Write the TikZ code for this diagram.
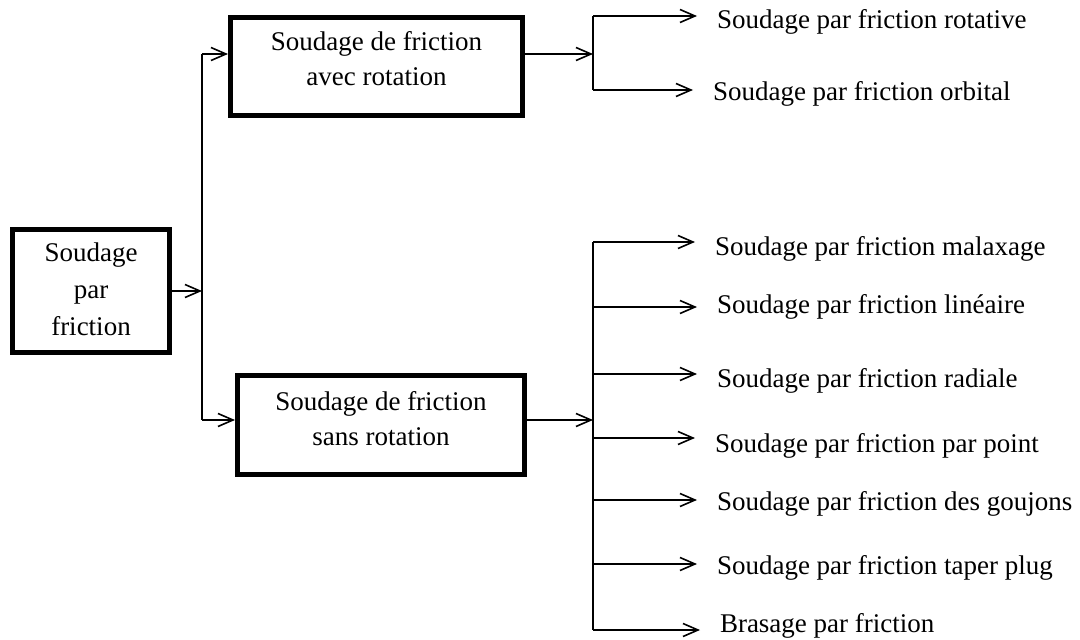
\documentclass[tikz,border=0pt]{standalone}
\usepackage{fontspec}
\setmainfont{Liberation Serif}
\usetikzlibrary{arrows.meta}
\begin{document}
\begin{tikzpicture}[x=1pt,y=-1pt,
  thinline/.style={line width=1.6pt},
  conn/.style={thinline,-{Straight Barb[length=15pt,width=13pt,line width=1.6pt]}},
  boxnode/.style={draw,line width=5pt,rectangle,inner sep=0pt},
  boxtext/.style={align=center,inner sep=0pt,font=\fontsize{27}{35}\selectfont},
  leaf/.style={anchor=base west,inner ysep=0pt,inner xsep=20pt,outer sep=0pt,font=\fontsize{27}{32}\selectfont}]
\useasboundingbox (0,0) rectangle (1080,640);
% boxes
\node[boxnode,minimum width=157pt,minimum height=123pt] (src) at (91,291) {};
\node[boxtext,font=\fontsize{27}{37}\selectfont] (srctext) at (91,289) {Soudage\\par\\friction};
\node[boxnode,minimum width=292pt,minimum height=98pt] (topbox) at (376.5,66.5) {};
\node[boxtext] (toptext) at (376.5,58.3) {Soudage de friction\\avec rotation};
\node[boxnode,minimum width=287pt,minimum height=99pt] (botbox) at (381,425) {};
\node[boxtext] (bottext) at (381,418.3) {Soudage de friction\\sans rotation};
% left spine
\coordinate (ls1) at (202,54);
\coordinate (ls2) at (202,420);
\draw[thinline] (ls1) -- (ls2);
\draw[conn] (src.east) -- (src.east -| ls1);
\draw[conn] (ls1) -- (ls1 -| topbox.west);
\draw[conn] (ls2) -- (ls2 -| botbox.west);
% top right
\coordinate (ts) at (593,54);
\coordinate (t1) at (593,16);
\coordinate (t2) at (593,90);
\draw[thinline] (t1) -- (t2);
\draw[conn] (topbox.east |- ts) -- (ts);
\node[leaf] (r1) at (697,28) {Soudage par friction rotative};
\node[leaf] (r2) at (693,100) {Soudage par friction orbital};
\draw[conn] (t1) -- (t1 -| r1.west);
\draw[conn] (t2) -- (t2 -| r2.west);
% bottom right
\coordinate (bs) at (593,420);
\coordinate (b1) at (593,242);
\coordinate (b2) at (593,307);
\coordinate (b3) at (593,374);
\coordinate (b4) at (593,438);
\coordinate (b5) at (593,500);
\coordinate (b6) at (593,564);
\coordinate (b7) at (593,630);
\draw[thinline] (b1) -- (b7);
\draw[conn] (botbox.east |- bs) -- (bs);
\node[leaf] (m1) at (695,255) {Soudage par friction malaxage};
\node[leaf] (m2) at (697,313) {Soudage par friction linéaire};
\node[leaf] (m3) at (697,387) {Soudage par friction radiale};
\node[leaf] (m4) at (695,452) {Soudage par friction par point};
\node[leaf] (m5) at (697,510) {Soudage par friction des goujons};
\node[leaf] (m6) at (697,574) {Soudage par friction taper plug};
\node[leaf] (m7) at (700,632) {Brasage par friction};
\draw[conn] (b1) -- (b1 -| m1.west);
\draw[conn] (b2) -- (b2 -| m2.west);
\draw[conn] (b3) -- (b3 -| m3.west);
\draw[conn] (b4) -- (b4 -| m4.west);
\draw[conn] (b5) -- (b5 -| m5.west);
\draw[conn] (b6) -- (b6 -| m6.west);
\draw[conn] (b7) -- (b7 -| m7.west);
\end{tikzpicture}
\end{document}
